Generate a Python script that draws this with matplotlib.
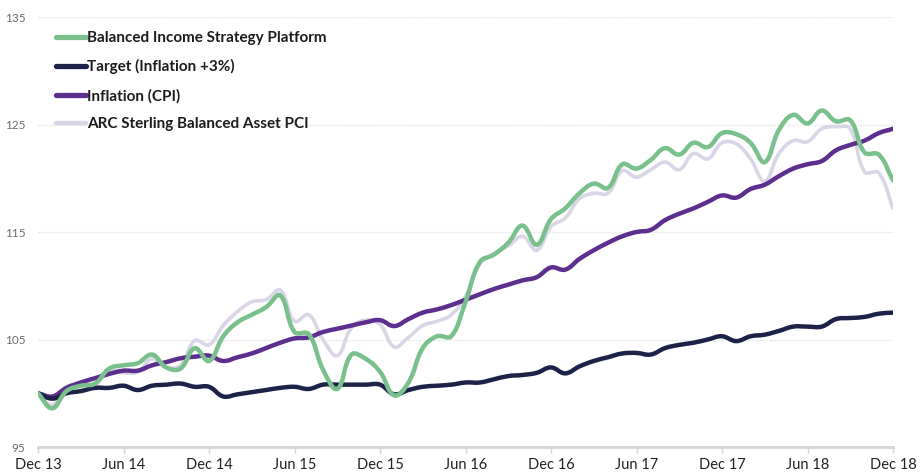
import matplotlib
matplotlib.use("Agg")
import matplotlib.pyplot as plt
import numpy as np
from matplotlib.path import Path
from matplotlib.patches import PathPatch
from matplotlib.lines import Line2D

plt.rcParams['font.family'] = ['Lato', 'DejaVu Sans']

# monthly values, Dec 13 .. Dec 18 (61 points)
tick_labels = ["Dec 13", "Jun 14", "Dec 14", "Jun 15", "Dec 15", "Jun 16",
               "Dec 16", "Jun 17", "Dec 17", "Jun 18", "Dec 18"]

bisp = [100.0, 98.6, 100.2, 100.7, 100.9, 102.3, 102.6, 102.8, 103.6, 102.4,
        102.3, 104.2, 103.0, 105.3, 106.6, 107.3, 108.0, 109.1, 105.7, 105.5,
        102.2, 100.4, 103.6, 103.2, 102.0, 99.8, 101.0, 104.2, 105.3, 105.3,
        108.5, 112.2, 112.9, 114.0, 115.6, 113.8, 116.2, 117.2, 118.6, 119.5,
        119.1, 121.3, 120.9, 121.7, 122.8, 122.2, 123.3, 122.9, 124.2, 124.1,
        123.3, 121.5, 124.5, 125.9, 125.1, 126.3, 125.3, 125.4, 122.4, 122.2,
        119.8]

target = [100.0, 99.5, 100.0, 100.2, 100.5, 100.5, 100.7, 100.3, 100.7, 100.8,
          100.9, 100.6, 100.6, 99.7, 99.9, 100.1, 100.3, 100.5, 100.6, 100.4,
          100.8, 100.8, 100.8, 100.8, 100.8, 99.9, 100.3, 100.6, 100.7, 100.8,
          101.0, 101.0, 101.3, 101.6, 101.7, 101.9, 102.4, 101.85, 102.5, 103.0,
          103.35, 103.7, 103.75, 103.6, 104.2, 104.5, 104.7, 105.0, 105.3, 104.85,
          105.3, 105.45, 105.8, 106.2, 106.2, 106.2, 106.9, 107.0, 107.1, 107.4,
          107.5]

cpi = [100.0, 99.7, 100.5, 101.0, 101.4, 101.8, 102.1, 102.1, 102.6, 102.9,
       103.25, 103.4, 103.5, 103.0, 103.35, 103.7, 104.2, 104.7, 105.1, 105.2,
       105.7, 106.0, 106.3, 106.6, 106.8, 106.25, 106.9, 107.5, 107.8, 108.2,
       108.7, 109.2, 109.7, 110.1, 110.5, 110.8, 111.7, 111.5, 112.5, 113.3,
       114.0, 114.6, 115.0, 115.2, 116.1, 116.7, 117.2, 117.8, 118.4, 118.2,
       119.0, 119.4, 120.2, 120.9, 121.3, 121.6, 122.6, 123.1, 123.5, 124.2,
       124.6]

arc = [100.0, 98.9, 100.6, 100.8, 100.8, 102.1, 101.9, 102.0, 103.2, 102.4,
       102.6, 104.9, 104.5, 106.3, 107.6, 108.5, 108.7, 109.6, 106.7, 107.3,
       105.0, 103.5, 106.1, 106.8, 106.4, 104.3, 105.2, 106.3, 106.7, 107.3,
       109.0, 112.0, 113.0, 113.7, 114.6, 113.3, 115.5, 116.3, 118.1, 118.6,
       118.6, 120.7, 120.1, 120.8, 121.5, 120.8, 122.3, 121.8, 123.3, 123.2,
       121.8, 119.7, 122.3, 123.5, 123.4, 124.6, 124.8, 124.6, 120.6, 120.5,
       117.2]

series = [
    ("Balanced Income Strategy Platform", bisp, "#79c08c", 3.2, 5),
    ("Target (Inflation +3%)", target, "#1d2249", 3.2, 4),
    ("Inflation (CPI)", cpi, "#5c2e8e", 3.2, 3),
    ("ARC Sterling Balanced Asset PCI", arc, "#d8d5e6", 2.6, 2),
]


def smooth_path(ax, xs, ys, tension=0.4):
    # chart.js style bezier curve, control points computed in pixel space
    pts = ax.transData.transform(np.column_stack([xs, ys]))
    n = len(pts)
    verts = [pts[0]]
    codes = [Path.MOVETO]
    cps = []
    for i in range(n):
        p0 = pts[max(i - 1, 0)]
        p1 = pts[i]
        p2 = pts[min(i + 1, n - 1)]
        d01 = np.hypot(*(p1 - p0))
        d12 = np.hypot(*(p2 - p1))
        tot = d01 + d12 if d01 + d12 > 0 else 1
        fa = tension * d01 / tot
        fb = tension * d12 / tot
        cps.append((p1 - fa * (p2 - p0), p1 + fb * (p2 - p0)))
    for i in range(1, n):
        verts += [cps[i - 1][1], cps[i][0], pts[i]]
        codes += [Path.CURVE4] * 3
    verts = ax.transData.inverted().transform(np.array(verts))
    return Path(verts, codes)


fig = plt.figure(figsize=(9.23, 4.73), dpi=100)
ax = fig.add_axes([38 / 923, 26 / 473, 855 / 923, 430 / 473])

months = np.arange(len(bisp))
ax.set_xlim(0, 60)
ax.set_ylim(95, 135)

handles = []
for label, vals, color, lw, z in series:
    p = smooth_path(ax, months, vals)
    ax.add_patch(PathPatch(p, fill=False, edgecolor=color, lw=lw,
                           capstyle='round', joinstyle='round', zorder=z))
    handles.append(Line2D([], [], color=color, lw=lw + 0.6,
                          solid_capstyle='round'))

ax.set_yticks([95, 105, 115, 125, 135])
ax.set_xticks(np.arange(0, 61, 6))
ax.set_xticklabels(tick_labels)
ax.grid(axis='y', color='#e2e2e2', linestyle=(0, (1, 1)), lw=1)
ax.set_axisbelow(True)

for s in ['top', 'right', 'left']:
    ax.spines[s].set_visible(False)
ax.spines['bottom'].set_color('#d4d4d4')
ax.spines['bottom'].set_linewidth(2)
ax.tick_params(axis='y', length=0, pad=9, labelsize=8.5, labelcolor='#6b6b6b')
ax.tick_params(axis='x', length=4, width=1, color='#d4d4d4', pad=4,
               labelsize=10.5, labelcolor='#222222')

leg = ax.legend(handles, [s[0] for s in series], loc='upper left',
                bbox_to_anchor=(0.021, 0.967), frameon=False,
                prop={'size': 11, 'weight': 'bold'},
                handlelength=1.95, handletextpad=0.1, labelspacing=0.93,
                borderpad=0, borderaxespad=0)
for t in leg.get_texts():
    t.set_color('#1c1c1c')

fig.savefig("out.png", dpi=100)
